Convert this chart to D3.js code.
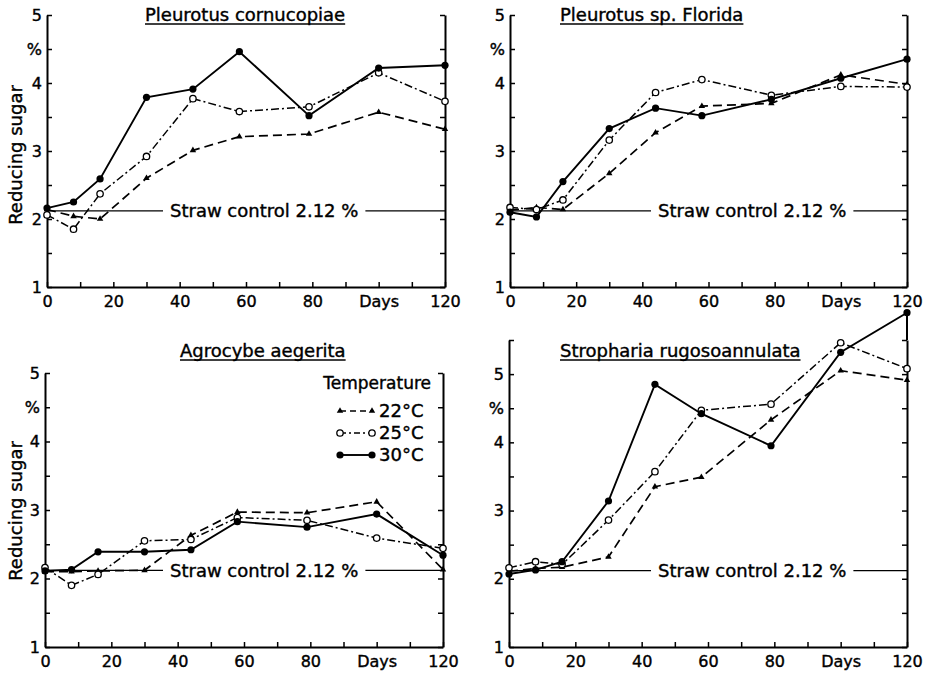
<!DOCTYPE html>
<html>
<head>
<meta charset="utf-8">
<script src="https://cdn.jsdelivr.net/npm/d3@7"></script>
<style>
  body { margin: 0; background: #fff; }
  text { font-family: "DejaVu Sans", sans-serif; fill: #000; stroke: #000; stroke-width: 0.4px; }
</style>
</head>
<body>
<svg id="chart" width="931" height="677"></svg>
<script>
// sampling days
var days = [0, 8, 16, 30, 44, 58, 79, 100, 120];
var fungi = ["Pleurotus cornucopiae", "Pleurotus sp. Florida", "Agrocybe aegerita", "Stropharia rugosoannulata"];
var temps = ["22°C", "25°C", "30°C"];

// reducing sugar (%), one row per fungus
var sugar22 = [
  [2.14, 2.04, 2.00, 2.60, 3.01, 3.21, 3.25, 3.57, 3.32],
  [2.13, 2.17, 2.14, 2.67, 3.27, 3.66, 3.70, 4.12, 3.98],
  [2.10, 2.10, 2.11, 2.12, 2.63, 2.97, 2.96, 3.12, 2.13],
  [2.11, 2.15, 2.17, 2.32, 3.35, 3.49, 4.33, 5.05, 4.91]
];
var sugar25 = [
  [2.06, 1.85, 2.37, 2.92, 3.77, 3.58, 3.65, 4.15, 3.73],
  [2.17, 2.14, 2.28, 3.16, 3.86, 4.05, 3.82, 3.95, 3.94],
  [2.16, 1.90, 2.06, 2.55, 2.57, 2.89, 2.85, 2.59, 2.44],
  [2.16, 2.25, 2.21, 2.86, 3.57, 4.47, 4.56, 5.46, 5.08]
];
var sugar30 = [
  [2.16, 2.25, 2.59, 3.79, 3.91, 4.46, 3.52, 4.22, 4.26],
  [2.10, 2.03, 2.55, 3.33, 3.63, 3.52, 3.76, 4.07, 4.35],
  [2.11, 2.13, 2.39, 2.39, 2.42, 2.83, 2.75, 2.94, 2.34],
  [2.07, 2.13, 2.25, 3.14, 4.85, 4.42, 3.95, 5.32, 5.90]
];
var control = 2.12;

var xTicks = d3.range(0, 121, 10);
var xLabels = {0: "0", 20: "20", 40: "40", 60: "60", 80: "80", 100: "Days", 120: "120"};
var yLabels = {1: "1", 2: "2", 3: "3", 4: "4", 4.5: "%", 5: "5"};

// panel frames
var panels = [
  {x0: 47,  x1: 445, top: 15,  bottom: 287, ymax: 5,   rightTop: 5,   titleX: 145, titleY: 21,  ylab: 155,  ctrlX: 170},
  {x0: 510, x1: 907, top: 15,  bottom: 287, ymax: 5,   rightTop: 5,   titleX: 560, titleY: 21,  ylab: null, ctrlX: 658},
  {x0: 45,  x1: 443, top: 373, bottom: 647, ymax: 5,   rightTop: 5,   titleX: 180, titleY: 357, ylab: 511,  ctrlX: 170},
  {x0: 509, x1: 907, top: 340, bottom: 647, ymax: 5.5, rightTop: 5.9, titleX: 560, titleY: 357, ylab: null, ctrlX: 658}
];

var styles = [
  {dash: "9,5",      width: 1.7},
  {dash: "8,3,2,3",  width: 1.5},
  {dash: null,       width: 1.9}
];

var svg = d3.select("#chart");

function marker(g, k, cx, cy) {
  if (k == 0) {
    g.append("path").attr("d", d3.symbol().type(d3.symbolTriangle).size(18)())
      .attr("transform", "translate(" + cx + "," + cy + ")").attr("fill", "#000");
  } else if (k == 1) {
    g.append("circle").attr("cx", cx).attr("cy", cy).attr("r", 3.2)
      .attr("fill", "#fff").attr("stroke", "#000").attr("stroke-width", 1.3);
  } else {
    g.append("circle").attr("cx", cx).attr("cy", cy).attr("r", 3.6).attr("fill", "#000");
  }
}

panels.forEach(function(p, i) {
  var x = d3.scaleLinear().domain([0, 120]).range([p.x0, p.x1]);
  var y = d3.scaleLinear().domain([1, p.ymax]).range([p.bottom, p.top]);
  var g = svg.append("g");

  var yTicks = d3.range(1, p.ymax + 0.01, 0.5);

  // axes, ticks pointing inward
  var left = g.append("g").attr("transform", "translate(" + p.x0 + ",0)")
    .call(d3.axisLeft(y).tickValues(yTicks).tickSizeInner(-5).tickSizeOuter(0).tickPadding(5)
      .tickFormat(function(d) { return yLabels[d] || ""; }));
  var right = g.append("g").attr("transform", "translate(" + p.x1 + ",0)")
    .call(d3.axisRight(y).tickValues(yTicks).tickSizeInner(-5).tickSizeOuter(0).tickFormat(""));
  var bottom = g.append("g").attr("transform", "translate(0," + p.bottom + ")")
    .call(d3.axisBottom(x).tickValues(xTicks).tickSizeInner(-5).tickSizeOuter(0).tickPadding(9)
      .tickFormat(function(d) { return xLabels[d] || ""; }));
  [left, right, bottom].forEach(function(a) {
    a.select(".domain").attr("stroke", "#000").attr("stroke-width", 2);
    a.selectAll(".tick line").attr("stroke", "#000").attr("stroke-width", 1.5);
    a.selectAll("text").attr("font-size", 16).attr("font-family", "DejaVu Sans").attr("fill", "#000");
  });
  if (p.rightTop > p.ymax) {
    g.append("line").attr("x1", p.x1).attr("x2", p.x1).attr("y1", y(p.ymax)).attr("y2", y(p.rightTop))
      .attr("stroke", "#000").attr("stroke-width", 2);
  }

  // title, underlined
  var t = g.append("text").attr("x", p.titleX).attr("y", p.titleY)
    .attr("font-size", 18).text(fungi[i]);
  var tb = t.node().getBBox();
  g.append("line").attr("x1", tb.x).attr("x2", tb.x + tb.width)
    .attr("y1", p.titleY + 3).attr("y2", p.titleY + 3)
    .attr("stroke", "#000").attr("stroke-width", 1.6);

  if (p.ylab) {
    g.append("text").attr("transform", "translate(22," + p.ylab + ") rotate(-90)")
      .attr("text-anchor", "middle").attr("font-size", 18).text("Reducing sugar");
  }

  // straw control line with label
  var ct = g.append("text").attr("x", p.ctrlX).attr("y", y(control)).attr("dy", "0.36em")
    .attr("font-size", 18).text("Straw control 2.12 %");
  var cb = ct.node().getBBox();
  g.append("line").attr("x1", x(0)).attr("x2", cb.x - 7)
    .attr("y1", y(control)).attr("y2", y(control)).attr("stroke", "#000").attr("stroke-width", 1.3);
  g.append("line").attr("x1", cb.x + cb.width + 7).attr("x2", x(120))
    .attr("y1", y(control)).attr("y2", y(control)).attr("stroke", "#000").attr("stroke-width", 1.3);

  // series
  var series = [sugar22[i], sugar25[i], sugar30[i]];
  var line = d3.line().x(function(d, j) { return x(days[j]); }).y(function(d) { return y(d); });
  series.forEach(function(s, k) {
    g.append("path").attr("d", line(s)).attr("fill", "none").attr("stroke", "#000")
      .attr("stroke-width", styles[k].width).attr("stroke-dasharray", styles[k].dash);
  });
  series.forEach(function(s, k) {
    s.forEach(function(v, j) { marker(g, k, x(days[j]), y(v)); });
  });

  // legend in Agrocybe panel
  if (i == 2) {
    g.append("text").attr("x", 431).attr("y", 389).attr("text-anchor", "end")
      .attr("font-size", 17).text("Temperature");
    temps.forEach(function(tp, k) {
      var ly = 411 + k * 22;
      g.append("line").attr("x1", 340).attr("x2", 372).attr("y1", ly).attr("y2", ly)
        .attr("stroke", "#000").attr("stroke-width", styles[k].width)
        .attr("stroke-dasharray", k == 0 ? "6,4" : (k == 1 ? "6,3,2,3" : null));
      marker(g, k, 340, ly);
      marker(g, k, 372, ly);
      g.append("text").attr("x", 379).attr("y", ly).attr("dy", "0.36em")
        .attr("font-size", 18).text(tp);
    });
  }
});
</script>
</body>
</html>
